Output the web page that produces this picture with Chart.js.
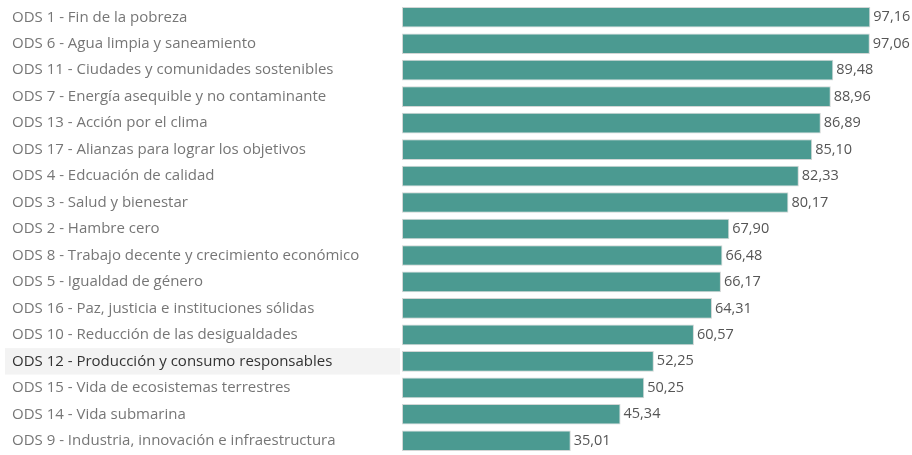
<!DOCTYPE html>
<html>
<head>
<meta charset="utf-8">
<script src="https://cdn.jsdelivr.net/npm/chart.js@4.4.1/dist/chart.umd.min.js"></script>
<style>
  html, body { margin: 0; padding: 0; background: #ffffff; }
  #wrap { width: 912px; height: 455px; position: relative; }
</style>
</head>
<body>
<div id="wrap"><canvas id="chart"></canvas></div>
<script>
// Objetivos (ODS), ordered from highest to lowest score
const categories = [
  "ODS 1 - Fin de la pobreza",
  "ODS 6 - Agua limpia y saneamiento",
  "ODS 11 - Ciudades y comunidades sostenibles",
  "ODS 7 - Energía asequible y no contaminante",
  "ODS 13 - Acción por el clima",
  "ODS 17 - Alianzas para lograr los objetivos",
  "ODS 4 - Edcuación de calidad",
  "ODS 3 - Salud y bienestar",
  "ODS 2 - Hambre cero",
  "ODS 8 - Trabajo decente y crecimiento económico",
  "ODS 5 - Igualdad de género",
  "ODS 16 - Paz, justicia e instituciones sólidas",
  "ODS 10 - Reducción de las desigualdades",
  "ODS 12 - Producción y consumo responsables",
  "ODS 15 - Vida de ecosistemas terrestres",
  "ODS 14 - Vida submarina",
  "ODS 9 - Industria, innovación e infraestructura"
];

const scores = [97.16, 97.06, 89.48, 88.96, 86.89, 85.10, 82.33, 80.17, 67.90,
                66.48, 66.17, 64.31, 60.57, 52.25, 50.25, 45.34, 35.01];

// the row that is highlighted (hovered) in the original dashboard
const highlighted = "ODS 12 - Producción y consumo responsables";

const FONT = "'Open Sans'";

// light gray band behind the highlighted label
const highlightRow = {
  id: "highlightRow",
  beforeDraw(chart) {
    const i = categories.indexOf(highlighted);
    if (i < 0) return;
    const y = chart.scales.y;
    const half = (y.getPixelForValue(1) - y.getPixelForValue(0)) / 2;
    const ctx = chart.ctx;
    ctx.save();
    ctx.fillStyle = "#f3f3f3";
    ctx.fillRect(5, y.getPixelForValue(i) - half, chart.chartArea.left - 7, half * 2);
    ctx.restore();
  }
};

// value labels just to the right of each bar, with a comma as decimal mark
const valueLabels = {
  id: "valueLabels",
  afterDatasetsDraw(chart) {
    const ctx = chart.ctx;
    const meta = chart.getDatasetMeta(0);
    ctx.save();
    ctx.font = "14.5px " + FONT;
    ctx.fillStyle = "#555555";
    ctx.textAlign = "left";
    ctx.textBaseline = "middle";
    meta.data.forEach((bar, i) => {
      ctx.fillText(scores[i].toFixed(2).replace(".", ","), bar.x + 3, bar.y);
    });
    ctx.restore();
  }
};

new Chart(document.getElementById("chart"), {
  type: "bar",
  data: {
    labels: categories,
    datasets: [{
      data: scores,
      backgroundColor: "#4b9a91",
      borderColor: "#d2d6d5",
      borderWidth: 1,
      borderSkipped: false,
      barPercentage: 0.78,
      categoryPercentage: 1
    }]
  },
  options: {
    indexAxis: "y",
    responsive: true,
    maintainAspectRatio: false,
    animation: false,
    layout: { padding: { left: 12, right: 28, top: 4, bottom: 1 } },
    plugins: {
      legend: { display: false },
      tooltip: { enabled: false }
    },
    scales: {
      x: {
        min: 0,
        max: 100,
        display: false
      },
      y: {
        grid: { display: false },
        border: { display: false },
        afterFit(scale) {
          // fixed label column, and no extra room for the first/last label
          scale.width = 390;
          scale.paddingTop = 0;
          scale.paddingBottom = 0;
        },
        ticks: {
          crossAlign: "far",
          padding: 0,
          font: { family: FONT, size: 15 },
          color: ctx => categories[ctx.index] === highlighted ? "#333333" : "#767676"
        }
      }
    }
  },
  plugins: [highlightRow, valueLabels]
});
</script>
</body>
</html>
